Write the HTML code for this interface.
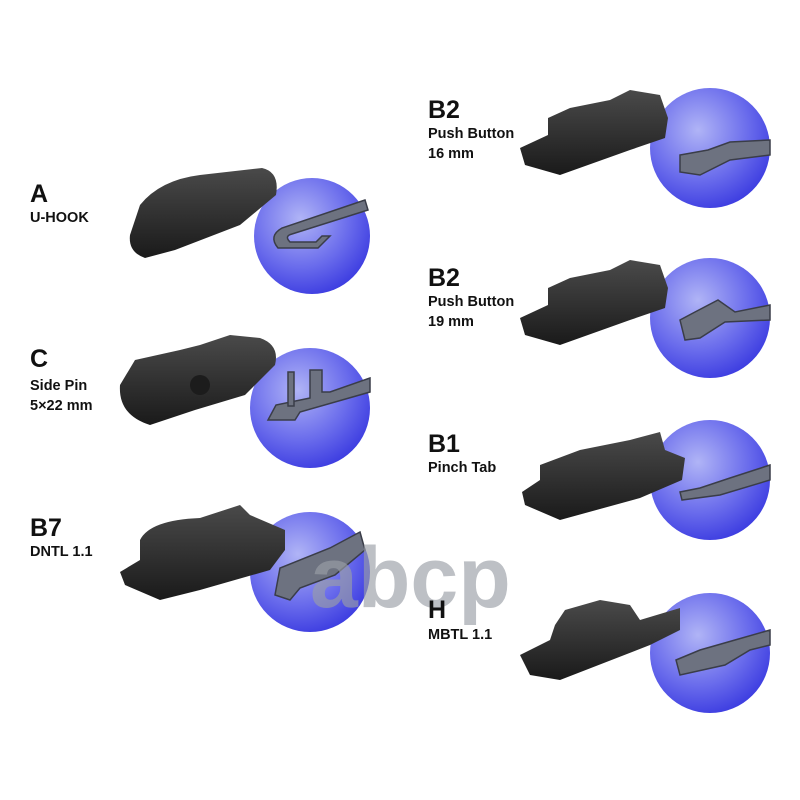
<!DOCTYPE html>
<html><head><meta charset="utf-8"><style>
body{margin:0;background:#fff;width:800px;height:800px;overflow:hidden;position:relative;font-family:"Liberation Sans",sans-serif;}
.t{position:absolute;color:#111;}
.b{font-size:25px;font-weight:700;}
.s{font-size:14.5px;font-weight:700;line-height:20px;}
svg{position:absolute;left:0;top:0}
</style></head><body>
<svg width="800" height="800" viewBox="0 0 800 800">
<defs>
<radialGradient id="g" cx="0.4" cy="0.35" r="0.7">
<stop offset="0" stop-color="#b0b4f6"/><stop offset="0.6" stop-color="#6a6cec"/><stop offset="1" stop-color="#3a3ae0"/>
</radialGradient>
<linearGradient id="k" x1="0" y1="0" x2="0" y2="1"><stop offset="0" stop-color="#4a4a4a"/><stop offset="1" stop-color="#1a1a1a"/></linearGradient>
</defs>
<g fill="url(#g)">
<circle cx="312" cy="236" r="58"/><circle cx="310" cy="408" r="60"/><circle cx="310" cy="572" r="60"/>
<circle cx="710" cy="148" r="60"/><circle cx="710" cy="318" r="60"/><circle cx="710" cy="480" r="60"/><circle cx="710" cy="653" r="60"/>
</g>
<g fill="#6d7280" stroke="#3a3d48" stroke-width="1.5">
<path d="M365 200 L282 228 Q268 236 278 248 L318 248 L330 236 L322 236 L316 242 L290 242 Q284 236 292 234 L368 210Z"/>
<path d="M370 378 L330 392 L322 392 L322 370 L310 370 L310 398 L276 405 L268 420 L295 420 L300 412 L370 392Z"/>
<path d="M288 372 h6 v34 h-6z"/>
<path d="M360 532 L330 548 L280 568 L275 595 L290 600 L300 588 L335 575 L365 550Z"/>
<path d="M770 140 L730 142 L708 150 L680 155 L680 172 L700 175 L730 160 L770 155Z"/>
<path d="M770 305 L735 312 L718 300 L695 312 L680 320 L685 340 L700 338 L725 322 L770 320Z"/>
<path d="M770 465 L730 478 L700 488 L680 492 L682 500 L720 495 L770 480Z"/>
<path d="M770 630 L735 640 L700 650 L676 660 L680 675 L725 665 L750 650 L770 645Z"/>
</g>
<g fill="url(#k)">
<path d="M130 235 L140 205 Q160 180 200 175 L262 168 Q280 172 276 195 L240 225 L175 250 L145 258 Q128 252 130 235Z"/>
<path d="M120 385 L135 360 L180 350 L200 345 L230 335 L260 338 Q280 345 275 365 L245 395 L195 410 L150 425 Q118 415 120 385Z"/>
<circle cx="200" cy="385" r="10" fill="#1c1c1c"/>
<path d="M120 572 L140 560 L140 540 Q150 520 200 518 L240 505 L250 515 L285 530 L285 550 L270 570 L200 590 L160 600 L125 585Z"/>
<path d="M520 148 L548 135 L548 118 L570 108 L610 100 L630 90 L660 95 L668 118 L665 138 L630 150 L560 175 L525 165Z"/>
<path d="M520 318 L548 305 L548 288 L570 278 L610 270 L630 260 L660 265 L668 288 L665 308 L630 320 L560 345 L525 335Z"/>
<path d="M522 492 L540 480 L540 465 L580 450 L630 440 L660 432 L665 450 L685 458 L682 480 L640 498 L560 520 L525 505Z"/>
<path d="M520 655 L550 640 L555 625 L565 610 L600 600 L630 605 L640 620 L680 608 L680 630 L650 645 L560 680 L530 675Z"/>
</g>
<text x="310" y="607" font-family="Liberation Sans,sans-serif" font-weight="700" font-size="86" fill="#9a9ea6" fill-opacity="0.65">abcp</text>
</svg>
<div class="t b" style="left:30px;top:180px">A</div>
<div class="t s" style="left:30px;top:208px">U-HOOK</div>
<div class="t b" style="left:30px;top:345px">C</div>
<div class="t s" style="left:30px;top:376px">Side Pin<br>5×22 mm</div>
<div class="t b" style="left:30px;top:514px">B7</div>
<div class="t s" style="left:30px;top:542px">DNTL 1.1</div>
<div class="t b" style="left:428px;top:96px">B2</div>
<div class="t s" style="left:428px;top:124px">Push Button<br>16 mm</div>
<div class="t b" style="left:428px;top:264px">B2</div>
<div class="t s" style="left:428px;top:292px">Push Button<br>19 mm</div>
<div class="t b" style="left:428px;top:430px">B1</div>
<div class="t s" style="left:428px;top:458px">Pinch Tab</div>
<div class="t b" style="left:428px;top:596px">H</div>
<div class="t s" style="left:428px;top:625px">MBTL 1.1</div>
</body></html>
